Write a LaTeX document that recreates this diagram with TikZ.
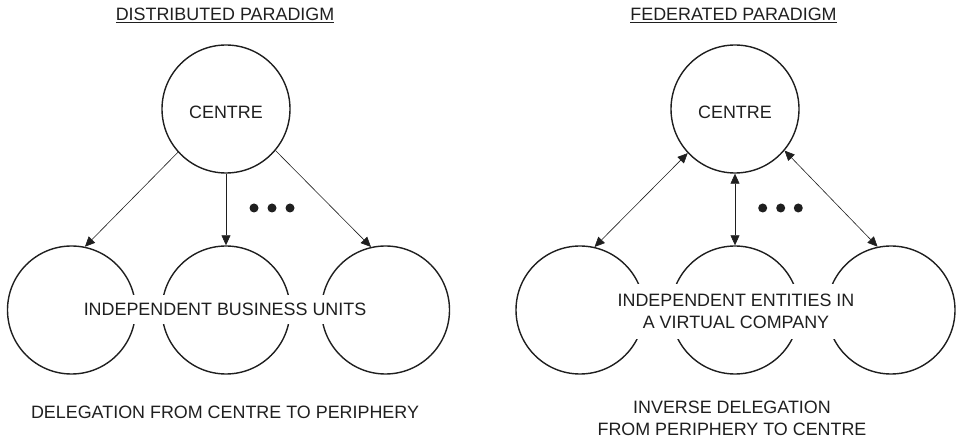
\documentclass[tikz,border=0pt]{standalone}
\usepackage{fontspec}
\setmainfont{Liberation Sans}
\usetikzlibrary{arrows.meta}
\begin{document}
\begin{tikzpicture}[x=1pt,y=-1pt,
  >={Triangle[length=10pt,width=9pt]},
  txt/.style={font=\fontsize{17.9}{22}\selectfont,text=black!88},
  unit/.style={circle,draw=black!88,line width=1.4pt,minimum size=128pt,inner sep=0pt},
  hub/.style={unit,txt,text height=20pt,text depth=0pt},
  banner/.style={txt,fill=white,align=center},
  link/.style={draw=black!88,line width=0.6pt,->},
  duplex/.style={draw=black!88,line width=0.6pt,<->},
  dot/.style={circle,fill=black!88,inner sep=0pt,minimum size=9pt},
]
\useasboundingbox (0,0) rectangle (956,438);

% ---------- distributed paradigm ----------
\node[txt,anchor=base] (titleD) at (225,20.7) {\underline{DISTRIBUTED PARADIGM}};
\node[hub] (cD) at (226,109) {CENTRE};
\node[unit] (d1) at (71.5,310) {};
\node[unit] (d2) at (226,310) {};
\node[unit] (d3) at (385.5,310) {};
\draw[link] (cD.-138) -- (d1.78);
\draw[link] (cD.south) -- (d2.north);
\draw[link] (cD.-40) -- (d3.103);
\node[dot] (dD1) at (254,208) {};
\node[dot] (dD2) at (272,208) {};
\node[dot] (dD3) at (290,208) {};
\node[banner,inner xsep=4pt,inner ysep=8pt] (unitsD) at (225,309.5) {INDEPENDENT BUSINESS UNITS};
\node[txt] (capD) at (225,412) {DELEGATION FROM CENTRE TO PERIPHERY};

% ---------- federated paradigm ----------
\node[txt,anchor=base] (titleF) at (733.5,20.7) {\underline{FEDERATED PARADIGM}};
\node[hub] (cF) at (735,109) {CENTRE};
\node[unit] (f1) at (580,310) {};
\node[unit] (f2) at (735,310) {};
\node[unit] (f3) at (891,310) {};
\draw[duplex] (cF.-137) -- (f1.77);
\draw[duplex] (cF.south) -- (f2.north);
\draw[duplex] (cF.-40) -- (f3.102);
\node[dot] (dF1) at (762.7,208) {};
\node[dot] (dF2) at (780.7,208) {};
\node[dot] (dF3) at (798.3,208) {};
\node[banner,inner xsep=6pt,inner ysep=10pt] (unitsF) at (736,311.5) {INDEPENDENT ENTITIES IN\\A VIRTUAL COMPANY};
\node[txt,align=center] (capF) at (732,418.3) {INVERSE DELEGATION\\FROM PERIPHERY TO CENTRE};
\end{tikzpicture}
\end{document}
